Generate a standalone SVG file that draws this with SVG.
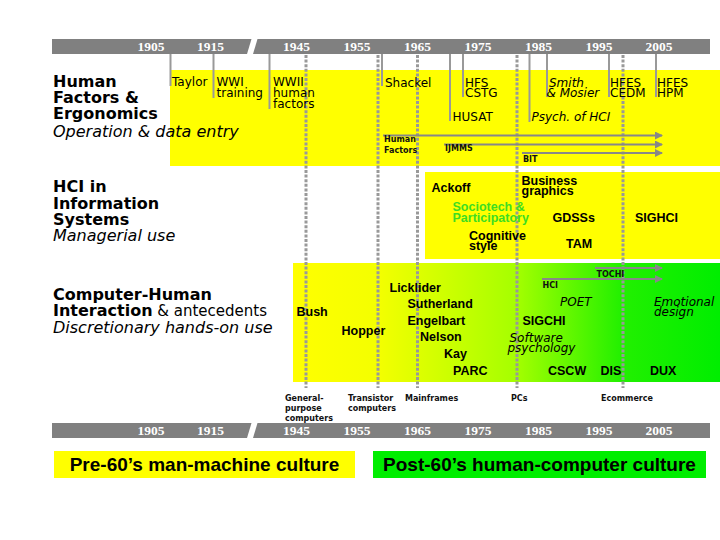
<svg xmlns="http://www.w3.org/2000/svg" width="720" height="540" viewBox="0 0 720 540">
<defs>
<linearGradient id="chiGrad" gradientUnits="userSpaceOnUse" x1="293" y1="0" x2="720" y2="0">
<stop offset="0" stop-color="#ffff00"/>
<stop offset="0.2" stop-color="#f4ff00"/>
<stop offset="0.52" stop-color="#a6ff00"/>
<stop offset="0.77" stop-color="#22f000"/>
<stop offset="1" stop-color="#00ee00"/>
</linearGradient>
<marker id="ah" viewBox="0 0 8 8" refX="7" refY="4" markerWidth="4" markerHeight="4" orient="auto" markerUnits="strokeWidth">
<path d="M0,0 L8,4 L0,8 Z" fill="#888888"/>
</marker>
<style>
.bar{fill:#808080}
.yr{font-family:"Liberation Serif",serif;font-weight:bold;font-size:13.5px;fill:#ffffff;text-anchor:middle}
.ttl{font-family:"DejaVu Sans",sans-serif;font-weight:bold;font-size:16px;fill:#000}
.sub{font-family:"DejaVu Sans",sans-serif;font-style:italic;font-size:16px;fill:#000}
.reg{font-family:"DejaVu Sans",sans-serif;font-size:15px;fill:#000}
.hf{font-family:"DejaVu Sans",sans-serif;font-size:12px;fill:#000}
.hfi{font-family:"DejaVu Sans",sans-serif;font-style:italic;font-size:12px;fill:#000}
.lb{font-family:"Liberation Sans",sans-serif;font-weight:bold;font-size:12.5px;fill:#000}
.green{fill:#3ddd22}
.tiny{font-family:"DejaVu Sans",sans-serif;font-weight:bold;font-size:8px;fill:#111}
.dot{stroke:#999999;stroke-width:3;stroke-dasharray:3 1.6;fill:none}
.ptr{stroke:#999999;stroke-width:2;fill:none}
.arr{stroke:#888888;stroke-width:2;fill:none;marker-end:url(#ah)}
.cult{font-family:"Liberation Sans",sans-serif;font-weight:bold;font-size:19px;fill:#000;text-anchor:middle}
</style>
</defs>

<g id="bands">
<rect x="170" y="70" width="550" height="96" fill="#ffff00"/>
<rect x="425" y="172" width="295" height="87" fill="#ffff00"/>
<rect x="293" y="263" width="427" height="119" fill="url(#chiGrad)"/>
</g>

<g id="timeline-top">
<polygon class="bar" points="52,39 251.5,39 247,54 52,54"/>
<polygon class="bar" points="257.5,39 710,39 710,54 253,54"/>
<text class="yr" x="151" y="51">1905</text>
<text class="yr" x="210.5" y="51">1915</text>
<text class="yr" x="296.5" y="51">1945</text>
<text class="yr" x="357" y="51">1955</text>
<text class="yr" x="417.5" y="51">1965</text>
<text class="yr" x="478" y="51">1975</text>
<text class="yr" x="538.5" y="51">1985</text>
<text class="yr" x="599" y="51">1995</text>
<text class="yr" x="659" y="51">2005</text>
</g>

<g id="timeline-bottom">
<polygon class="bar" points="52,423 251.5,423 247,438 52,438"/>
<polygon class="bar" points="257.5,423 710,423 710,438 253,438"/>
<text class="yr" x="151" y="435">1905</text>
<text class="yr" x="210.5" y="435">1915</text>
<text class="yr" x="296.5" y="435">1945</text>
<text class="yr" x="357" y="435">1955</text>
<text class="yr" x="417.5" y="435">1965</text>
<text class="yr" x="478" y="435">1975</text>
<text class="yr" x="538.5" y="435">1985</text>
<text class="yr" x="599" y="435">1995</text>
<text class="yr" x="659" y="435">2005</text>
</g>

<g id="era-lines">
<line class="dot" x1="306" y1="55" x2="306" y2="388"/>
<line class="dot" x1="378" y1="55" x2="378" y2="388"/>
<line class="dot" x1="417.5" y1="55" x2="417.5" y2="388"/>
<line class="dot" x1="517" y1="55" x2="517" y2="388"/>
<line class="dot" x1="623" y1="55" x2="623" y2="388"/>
</g>

<g id="connectors">
<line class="ptr" x1="170.5" y1="54" x2="170.5" y2="86"/>
<line class="ptr" x1="213.5" y1="54" x2="213.5" y2="98"/>
<line class="ptr" x1="269.5" y1="54" x2="269.5" y2="109"/>
<line class="ptr" x1="382" y1="54" x2="382" y2="86"/>
<line class="ptr" x1="450" y1="54" x2="450" y2="121"/>
<line class="ptr" x1="463" y1="54" x2="463" y2="97"/>
<line class="ptr" x1="529.5" y1="54" x2="529.5" y2="122"/>
<line class="ptr" x1="547" y1="54" x2="547" y2="97"/>
<line class="ptr" x1="609" y1="54" x2="609" y2="97"/>
<line class="ptr" x1="656" y1="54" x2="656" y2="97"/>
<line class="arr" x1="383" y1="135.5" x2="662" y2="135.5"/>
<line class="arr" x1="444" y1="144.5" x2="662" y2="144.5"/>
<line class="arr" x1="522" y1="153" x2="662" y2="153"/>
<line class="arr" x1="595" y1="268" x2="662" y2="268"/>
<line class="arr" x1="542" y1="279" x2="662" y2="279"/>
</g>

<g id="hf-title">
<text class="ttl" x="53" y="87">Human<tspan x="53" dy="16">Factors &amp;</tspan><tspan x="53" dy="16">Ergonomics</tspan></text>
<text class="sub" x="53" y="136.5">Operation &amp; data entry</text>
</g>
<g id="is-title">
<text class="ttl" x="53" y="191.5">HCI in<tspan x="53" dy="17">Information</tspan><tspan x="53" dy="16.5">Systems</tspan></text>
<text class="sub" x="53" y="241">Managerial use</text>
</g>
<g id="chi-title">
<text class="ttl" x="53" y="299.5">Computer-Human<tspan x="53" dy="16">Interaction</tspan><tspan class="reg" font-weight="normal"> &amp; antecedents</tspan></text>
<text class="sub" x="53" y="332.5">Discretionary hands-on use</text>
</g>

<g id="hf-nodes">
<g id="taylor"><text class="hf" x="172" y="86">Taylor</text></g>
<g id="wwi"><text class="hf" x="216.5" y="86">WWI<tspan x="216.5" dy="11">training</tspan></text></g>
<g id="wwii"><text class="hf" x="273" y="86">WWII<tspan x="273" dy="11">human</tspan><tspan x="273" dy="11">factors</tspan></text></g>
<g id="shackel"><text class="hf" x="385" y="86.5">Shackel</text></g>
<g id="hfs"><text class="hf" x="465" y="86.5">HFS<tspan x="465" dy="10.5">CSTG</tspan></text></g>
<g id="husat"><text class="hf" x="452.5" y="121">HUSAT</text></g>
<g id="smith"><text class="hfi" x="549" y="86.5">Smith<tspan x="546.5" dy="10.5">&amp; Mosier</tspan></text></g>
<g id="hfes-cedm"><text class="hf" x="610" y="86.5">HFES<tspan x="610" dy="10.5">CEDM</tspan></text></g>
<g id="hfes-hpm"><text class="hf" x="657" y="86.5">HFES<tspan x="657" dy="10.5">HPM</tspan></text></g>
<g id="psych"><text class="hfi" x="531.5" y="121">Psych. of HCI</text></g>
<g id="human-factors"><text class="tiny" x="384" y="142">Human<tspan x="384" dy="11">Factors</tspan></text></g>
<g id="ijmms"><text class="tiny" x="445" y="150.5">IJMMS</text></g>
<g id="bit"><text class="tiny" x="523" y="161.5">BIT</text></g>
</g>

<g id="is-nodes">
<g id="ackoff"><text class="lb" x="431.5" y="192">Ackoff</text></g>
<g id="business"><text class="lb" x="521.5" y="185">Business<tspan x="521.5" dy="10">graphics</tspan></text></g>
<g id="sociotech"><text class="lb green" x="452.5" y="211">Sociotech &amp;<tspan x="452.5" dy="11">Participatory</tspan></text></g>
<g id="gdss"><text class="lb" x="552.5" y="222">GDSSs</text></g>
<g id="sighci"><text class="lb" x="635" y="222">SIGHCI</text></g>
<g id="cognitive"><text class="lb" x="469" y="239.5">Cognitive<tspan x="469" dy="10.5">style</tspan></text></g>
<g id="tam"><text class="lb" x="566" y="247.5">TAM</text></g>
</g>

<g id="chi-nodes">
<g id="tochi"><text class="tiny" x="596.5" y="277">TOCHI</text></g>
<g id="hci"><text class="tiny" x="542.5" y="288">HCI</text></g>
<g id="licklider"><text class="lb" x="389.5" y="292">Licklider</text></g>
<g id="sutherland"><text class="lb" x="407.5" y="307.5">Sutherland</text></g>
<g id="engelbart"><text class="lb" x="407.5" y="324.5">Engelbart</text></g>
<g id="nelson"><text class="lb" x="420" y="341">Nelson</text></g>
<g id="kay"><text class="lb" x="444" y="357.5">Kay</text></g>
<g id="parc"><text class="lb" x="453" y="375">PARC</text></g>
<g id="bush"><text class="lb" x="296.5" y="316">Bush</text></g>
<g id="hopper"><text class="lb" x="341.5" y="335">Hopper</text></g>
<g id="poet"><text class="hfi" x="560" y="305.5">POET</text></g>
<g id="sigchi"><text class="lb" x="522.5" y="324.5">SIGCHI</text></g>
<g id="software"><text class="hfi" x="509.5" y="341.5">Software<tspan x="507.5" dy="10.5">psychology</tspan></text></g>
<g id="cscw"><text class="lb" x="548" y="375">CSCW</text></g>
<g id="dis"><text class="lb" x="600.5" y="375">DIS</text></g>
<g id="dux"><text class="lb" x="650" y="375">DUX</text></g>
<g id="emotional"><text class="hfi" x="654" y="305.5">Emotional<tspan x="654" dy="10">design</tspan></text></g>
</g>

<g id="tech-labels">
<g id="general-purpose"><text class="tiny" x="285" y="401">General-<tspan x="285" dy="10">purpose</tspan><tspan x="285" dy="10">computers</tspan></text></g>
<g id="transistor"><text class="tiny" x="348" y="401">Transistor<tspan x="348" dy="10">computers</tspan></text></g>
<g id="mainframes"><text class="tiny" x="405" y="401">Mainframes</text></g>
<g id="pcs"><text class="tiny" x="511" y="401">PCs</text></g>
<g id="ecommerce"><text class="tiny" x="601" y="401">Ecommerce</text></g>
</g>

<g id="pre60">
<rect x="54" y="451" width="301" height="27" fill="#ffff00"/>
<text class="cult" x="204.5" y="471">Pre-60’s man-machine culture</text>
</g>
<g id="post60">
<rect x="373" y="451" width="333" height="27" fill="#00ee00"/>
<text class="cult" x="539.5" y="471">Post-60’s human-computer culture</text>
</g>
</svg>
